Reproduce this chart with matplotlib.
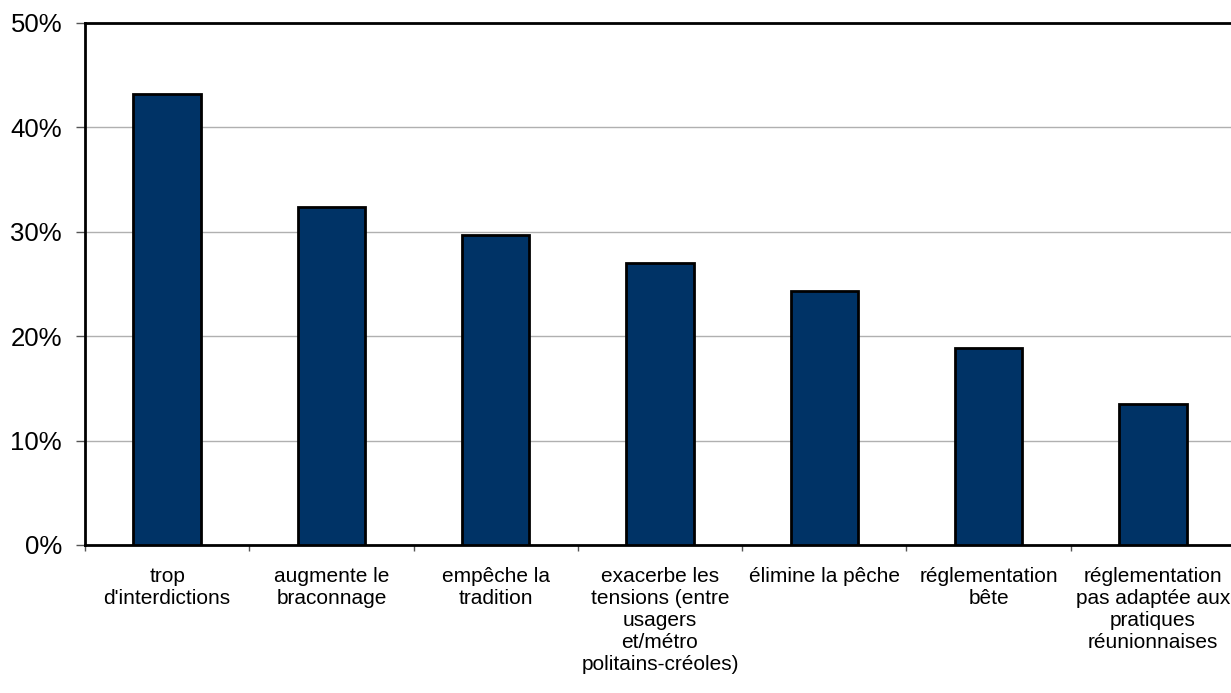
import matplotlib.pyplot as plt
from matplotlib.ticker import FuncFormatter, MultipleLocator, FixedLocator, NullFormatter

plt.rcParams['font.family'] = ['Liberation Sans', 'DejaVu Sans']

categories = [
    "trop\nd'interdictions",
    "augmente le\nbraconnage",
    "empêche la\ntradition",
    "exacerbe les\ntensions (entre\nusagers\net/métro\npolitains-créoles)",
    "élimine la pêche",
    "réglementation\nbête",
    "réglementation\npas adaptée aux\npratiques\nréunionnaises",
]
values = [43.2, 32.4, 29.7, 27.0, 24.3, 18.9, 13.5]

W, H = 1231, 693
fig = plt.figure(figsize=(W / 100, H / 100), dpi=100)
ax = fig.add_axes([85 / W, 1 - 545 / H, 1150 / W, (545 - 23) / H])

x = list(range(len(categories)))
ax.bar(x, values, width=0.41, color='#003366', edgecolor='black', linewidth=2, zorder=3)

ax.set_xlim(-0.5, len(categories) - 0.5)
ax.set_ylim(0, 50)
ax.yaxis.set_major_locator(MultipleLocator(10))
ax.yaxis.set_major_formatter(FuncFormatter(lambda v, p: f"{v:.0f}%"))
ax.grid(axis='y', color='#b0b0b0', linewidth=1, zorder=0)

# category labels centered, ticks at the boundaries
ax.set_xticks(x)
ax.set_xticklabels(categories, fontsize=15, linespacing=1.2)
ax.tick_params(axis='x', length=0, pad=16)
ax.xaxis.set_minor_locator(FixedLocator([i - 0.5 for i in range(len(categories) + 1)]))
ax.xaxis.set_minor_formatter(NullFormatter())
ax.tick_params(axis='x', which='minor', length=4.5, color='#555555', width=1)
ax.tick_params(axis='y', length=6.5, color='#555555', width=1, labelsize=18.5, pad=10)

for s in ['left', 'top', 'bottom']:
    ax.spines[s].set_linewidth(2)
    ax.spines[s].set_color('black')
ax.spines['right'].set_visible(False)

fig.savefig('out.png', dpi=100)
